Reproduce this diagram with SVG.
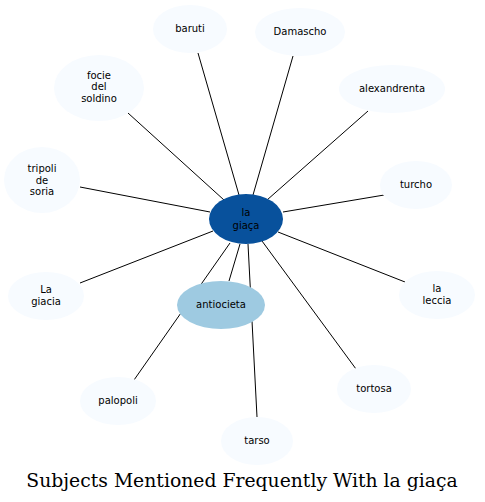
<svg xmlns="http://www.w3.org/2000/svg" width="485" height="502" viewBox="0 0 485 502">
<style>
.e{stroke:#000;stroke-width:1;fill:none}
.n{fill:#f7fbff;stroke:none}
text{font-family:"DejaVu Sans",sans-serif;font-size:10px;fill:#000;text-anchor:middle}
.t{font-family:"DejaVu Serif",serif;font-size:18.8px}
</style>
<rect width="485" height="502" fill="#fff"/>
<g id="edges">
<line class="e" x1="198" y1="53" x2="239" y2="195"/>
<line class="e" x1="293" y1="56" x2="253" y2="195"/>
<line class="e" x1="368" y1="111" x2="267" y2="200"/>
<line class="e" x1="128" y1="113" x2="224" y2="200"/>
<line class="e" x1="80" y1="187" x2="210" y2="212"/>
<line class="e" x1="408" y1="191" x2="283" y2="212"/>
<line class="e" x1="80" y1="283" x2="213" y2="231"/>
<line class="e" x1="405" y1="282" x2="278" y2="232"/>
<line class="e" x1="356" y1="369" x2="262" y2="241"/>
<line class="e" x1="134" y1="380" x2="230" y2="243"/>
<line class="e" x1="257" y1="417" x2="248" y2="244"/>
<line class="e" x1="229" y1="281" x2="240" y2="244"/>
</g>
<g id="n-center"><ellipse cx="246" cy="219" rx="37" ry="25" fill="#08519c"/><text x="246" y="216">la</text><text x="246" y="229">giaça</text></g>
<g id="n-antiocieta"><ellipse cx="221" cy="305" rx="44" ry="24" fill="#9ecae1"/><text x="221" y="308">antiocieta</text></g>
<g id="n-baruti"><ellipse class="n" cx="190" cy="29" rx="37" ry="24"/><text x="190" y="32">baruti</text></g>
<g id="n-damascho"><ellipse class="n" cx="300" cy="32" rx="45" ry="24"/><text x="300" y="35">Damascho</text></g>
<g id="n-alexandrenta"><ellipse class="n" cx="392" cy="89" rx="53" ry="24"/><text x="392" y="92">alexandrenta</text></g>
<g id="n-focie"><ellipse class="n" cx="99" cy="88" rx="45" ry="33"/><text x="99" y="79">focie</text><text x="99" y="90">del</text><text x="99" y="102">soldino</text></g>
<g id="n-tripoli"><ellipse class="n" cx="42" cy="180" rx="38" ry="33"/><text x="42" y="172">tripoli</text><text x="42" y="184">de</text><text x="42" y="195">soria</text></g>
<g id="n-turcho"><ellipse class="n" cx="416" cy="185" rx="36" ry="24"/><text x="416" y="188">turcho</text></g>
<g id="n-lagiacia"><ellipse class="n" cx="46" cy="296" rx="38" ry="24"/><text x="46" y="293">La</text><text x="46" y="305">giacia</text></g>
<g id="n-laleccia"><ellipse class="n" cx="437" cy="295" rx="38" ry="24"/><text x="437" y="292">la</text><text x="437" y="304">leccia</text></g>
<g id="n-tortosa"><ellipse class="n" cx="374" cy="389" rx="37" ry="24"/><text x="374" y="392">tortosa</text></g>
<g id="n-palopoli"><ellipse class="n" cx="118" cy="401" rx="38" ry="24"/><text x="118" y="404">palopoli</text></g>
<g id="n-tarso"><ellipse class="n" cx="257" cy="441" rx="36" ry="24"/><text x="257" y="444">tarso</text></g>
<text class="t" x="242" y="487">Subjects Mentioned Frequently With la giaça</text>
</svg>
